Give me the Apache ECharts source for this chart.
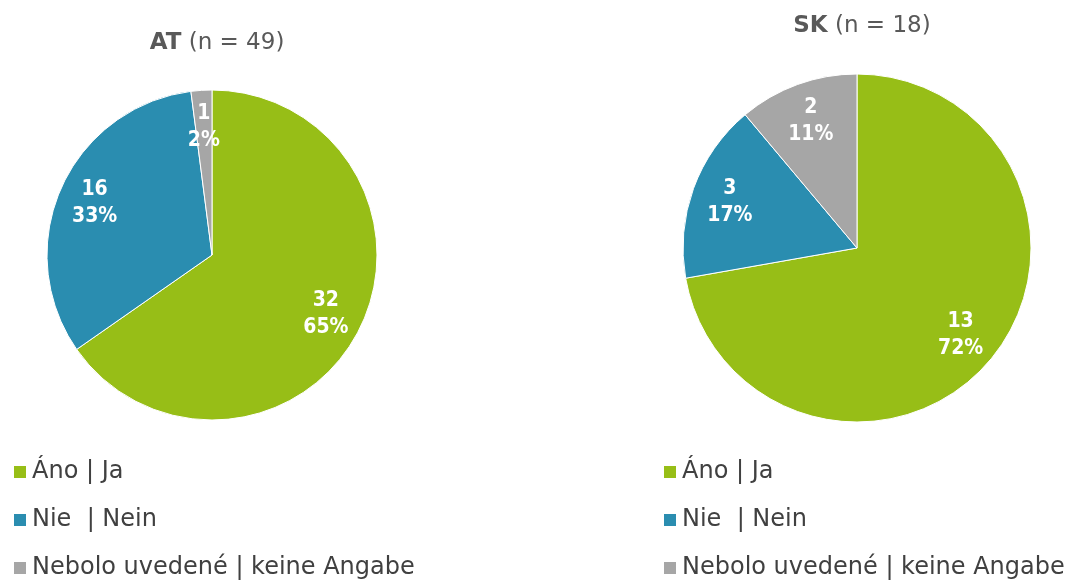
<!DOCTYPE html>
<html>
<head>
<meta charset="utf-8">
<style>
  html, body { margin: 0; padding: 0; background: #fff; }
  #chart { width: 1067px; height: 583px; }
</style>
<script src="https://cdn.jsdelivr.net/npm/echarts@6/dist/echarts.min.js"></script>
</head>
<body>
<div id="chart"></div>
<script>
// categories (legend order)
var categories = ['Áno | Ja', 'Nie  | Nein', 'Nebolo uvedené | keine Angabe'];
var colors = ['#97be17', '#2a8db0', '#a6a6a6'];

// counts per country
var atValues = [32, 16, 1];
var skValues = [13, 3, 2];

var titleCodes = ['AT', 'SK'];
var titleN = [49, 18];

var FONT = 'DejaVu Sans';
var FONT_C = 'DejaVu Sans Condensed';

function toData(values) {
    return values.map(function (v, i) {
        return { name: categories[i], value: v, itemStyle: { color: colors[i] } };
    });
}

// one pie = colored slices + transparent ring that carries the labels further out
function pieSeries(values, center, radius) {
    return [{
        type: 'pie',
        center: center,
        radius: radius,
        startAngle: 90,
        clockwise: true,
        percentPrecision: 0,
        label: { show: false },
        labelLine: { show: false },
        itemStyle: { borderColor: '#fff', borderWidth: 1 },
        emphasis: { disabled: true },
        data: toData(values)
    }, {
        type: 'pie',
        center: center,
        radius: [radius * 0.52, radius],
        startAngle: 90,
        clockwise: true,
        percentPrecision: 0,
        silent: true,
        itemStyle: { color: 'transparent' },
        label: {
            show: true,
            position: 'inside',
            formatter: '{c}\n{d}%',
            color: '#fff',
            fontFamily: FONT_C + ', ' + FONT,
            fontSize: 21,
            lineHeight: 27,
            fontWeight: 'bold'
        },
        labelLine: { show: false },
        emphasis: { disabled: true },
        data: values.map(function (v, i) {
            return { name: categories[i], value: v };
        })
    }];
}

function titleOf(i, x, y) {
    return {
        text: '{b|' + titleCodes[i] + '} (n = ' + titleN[i] + ')',
        left: x,
        top: y,
        textAlign: 'center',
        textStyle: {
            fontFamily: FONT,
            fontSize: 23,
            fontWeight: 'normal',
            color: '#595959',
            rich: {
                b: { fontFamily: FONT, fontSize: 23, fontWeight: 'bold', color: '#595959' }
            }
        }
    };
}

function legendOf(x) {
    return {
        orient: 'vertical',
        left: x,
        top: 455,
        height: 128,
        icon: 'rect',
        itemWidth: 14,
        itemHeight: 14,
        itemGap: 24,
        selectedMode: false,
        data: categories,
        textStyle: { fontFamily: FONT, fontSize: 24, color: '#404040', lineHeight: 24 }
    };
}

var chart = echarts.init(document.getElementById('chart'));
chart.setOption({
    animation: false,
    title: [titleOf(0, 212, 27), titleOf(1, 857, 10)],
    legend: [legendOf(7), legendOf(657)],
    series: pieSeries(atValues, [212, 255], 165).concat(pieSeries(skValues, [857, 248], 174))
});
</script>
</body>
</html>
